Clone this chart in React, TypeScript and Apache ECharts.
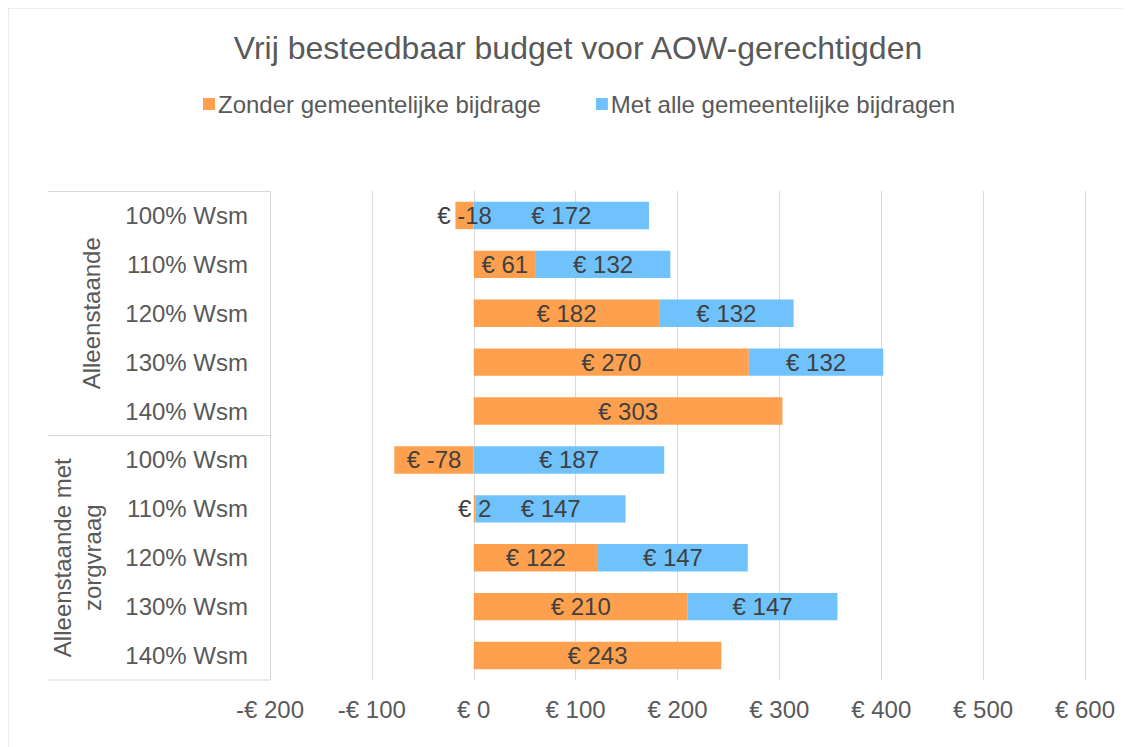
import React, { useEffect, useRef } from "react";
import * as echarts from "echarts";

const categories = [
  "100% Wsm", "110% Wsm", "120% Wsm", "130% Wsm", "140% Wsm",
  "100% Wsm", "110% Wsm", "120% Wsm", "130% Wsm", "140% Wsm",
];
const groups = ["Alleenstaande", "Alleenstaande met\nzorgvraag"];
const zonder: (number | string)[] = [-18, 61, 182, 270, 303, -78, 2, 122, 210, 243];
const metAlle: (number | string)[] = [172, 132, 132, 132, "-", 187, 147, 147, 147, "-"];
const seriesNames = ["Zonder gemeentelijke bijdrage", "Met alle gemeentelijke bijdragen"];

const W = 1123;
const H = 739;
const G_LEFT = 262;
const G_RIGHT = 46;
const G_TOP = 183;
const G_BOTTOM = 67;
const BOX_LEFT = 39;

const euro = (v: number) => (v < 0 ? "-€ " + Math.abs(v) : "€ " + v);

export default function App() {
  const ref = useRef<HTMLDivElement>(null);
  useEffect(() => {
    if (!ref.current) return;
    const chart = echarts.init(ref.current, undefined, { renderer: "svg" });
    const plotH = H - G_TOP - G_BOTTOM;
    const rowH = plotH / categories.length;
    const axisX = G_LEFT;
    const lineStyle = { stroke: "#d9d9d9", lineWidth: 1 };
    const font = "Liberation Sans, Arial, sans-serif";
    chart.setOption({
      animation: false,
      textStyle: { fontFamily: font },
      title: {
        text: "Vrij besteedbaar budget voor AOW-gerechtigden",
        left: 565,
        textAlign: "center",
        top: 19,
        textStyle: { fontSize: 32, fontWeight: "normal", color: "#595959", fontFamily: font },
      },
      legend: {
        left: 190,
        top: 79,
        itemWidth: 12,
        itemHeight: 12,
        itemGap: 55,
        icon: "rect",
        textStyle: { fontSize: 24, color: "#595959", fontFamily: font, padding: [0, 0, 0, -2] },
        data: seriesNames,
      },
      grid: { left: G_LEFT, right: G_RIGHT, top: G_TOP, bottom: G_BOTTOM, containLabel: false },
      xAxis: {
        type: "value",
        min: -200,
        max: 600,
        interval: 100,
        axisLine: { show: false },
        axisTick: { show: false },
        splitLine: { show: true, lineStyle: { color: "#d9d9d9", width: 1 } },
        axisLabel: {
          fontSize: 24,
          color: "#595959",
          margin: 17,
          formatter: (v: number) => euro(v),
        },
      },
      yAxis: {
        type: "category",
        inverse: true,
        data: categories,
        axisLine: { show: true, lineStyle: { color: "#d9d9d9", width: 1 } },
        axisTick: { show: false },
        axisLabel: { fontSize: 24, color: "#595959", margin: 22 },
      },
      series: [
        {
          name: seriesNames[0],
          type: "bar",
          stack: "total",
          data: zonder,
          barCategoryGap: "44%",
          itemStyle: { color: "#FFA04E" },
          label: {
            show: true,
            position: "inside",
            fontSize: 24,
            color: "#404040",
            formatter: (p: any) => "€ " + p.value,
          },
        },
        {
          name: seriesNames[1],
          type: "bar",
          stack: "total",
          data: metAlle,
          barCategoryGap: "44%",
          itemStyle: { color: "#70C2FD" },
          label: {
            show: true,
            position: "inside",
            fontSize: 24,
            color: "#404040",
            formatter: (p: any) => "€ " + p.value,
          },
        },
      ],
      graphic: [
        {
          type: "rect",
          shape: { x: 0, y: 0, width: W + 50, height: H + 50 },
          style: { fill: "none", stroke: "#d9d9d9", lineWidth: 1 },
          silent: true,
        },
        { type: "line", shape: { x1: BOX_LEFT + 1, y1: G_TOP + 0.5, x2: axisX, y2: G_TOP + 0.5 }, style: lineStyle },
        {
          type: "line",
          shape: { x1: BOX_LEFT + 1, y1: G_TOP + rowH * 5, x2: axisX, y2: G_TOP + rowH * 5 },
          style: lineStyle,
        },
        {
          type: "line",
          shape: { x1: BOX_LEFT + 1, y1: H - G_BOTTOM, x2: axisX, y2: H - G_BOTTOM },
          style: lineStyle,
        },
        {
          type: "text",
          x: 83,
          y: G_TOP + rowH * 2.5,
          rotation: Math.PI / 2,
          style: {
            text: groups[0],
            font: "24px " + font,
            fill: "#595959",
            textAlign: "center",
            textVerticalAlign: "middle",
          },
        },
        {
          type: "text",
          x: 69,
          y: G_TOP + rowH * 7.5,
          rotation: Math.PI / 2,
          style: {
            text: groups[1],
            font: "24px " + font,
            fill: "#595959",
            textAlign: "center",
            textVerticalAlign: "middle",
            lineHeight: 30,
          },
        },
      ],
    });
    return () => chart.dispose();
  }, []);
  return <div ref={ref} style={{ width: W, height: H }} />;
}
